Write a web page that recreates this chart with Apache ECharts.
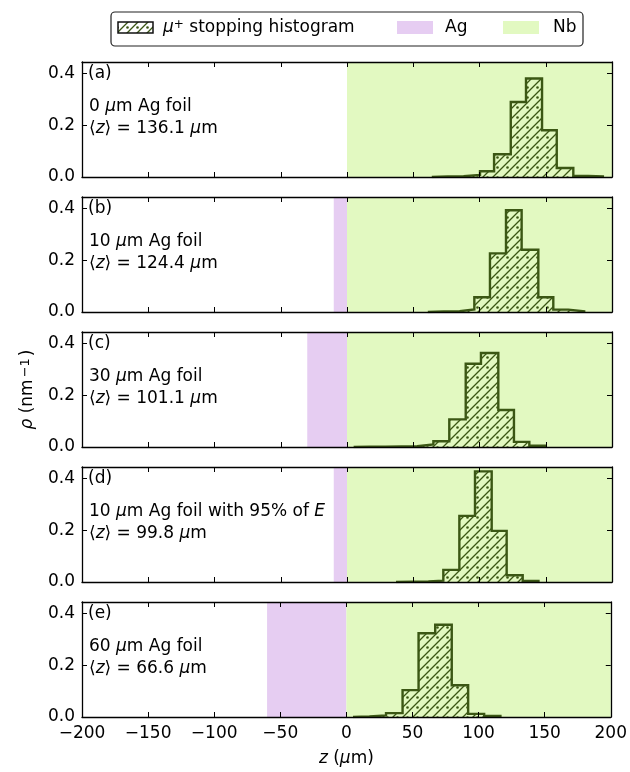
<!DOCTYPE html>
<html>
<head>
<meta charset="utf-8">
<script src="https://cdn.jsdelivr.net/npm/echarts@6/dist/echarts.min.js"></script>
<style>
  html, body { margin: 0; padding: 0; background: #fff; }
  #chart { width: 630px; height: 772px; }
</style>
</head>
<body>
<div id="chart"></div>
<script>
// x range, ticks
const xMin = -200
const xMax = 200
const xStep = 50
const yMax = 0.445
const yStep = 0.2

const panelTags = ['(a)', '(b)', '(c)', '(d)', '(e)']
const foilLabels = [
  '0 {i|μ}m Ag foil',
  '10 {i|μ}m Ag foil',
  '30 {i|μ}m Ag foil',
  '10 {i|μ}m Ag foil with 95% of {i|E}',
  '60 {i|μ}m Ag foil'
]
const meanZ = ['136.1', '124.4', '101.1', '99.8', '66.6']
const agThickness = [0, 10, 30, 10, 60]
const nbEnd = 200

// histogram bin edges (µm) and densities
const edgesA = [64, 76, 88, 100.4, 111, 123.6, 135.1, 147.2, 158.3, 170.8, 182, 194]
const rhoA = [0.002, 0.003, 0.008, 0.022, 0.088, 0.29, 0.381, 0.181, 0.035, 0.004, 0.002]
const edgesB = [61, 73, 85, 96.1, 107.9, 120, 131.8, 144.4, 155.7, 167, 179]
const rhoB = [0.002, 0.003, 0.01, 0.057, 0.227, 0.394, 0.241, 0.057, 0.009, 0.003]
const edgesC = [5, 17, 29, 41, 53, 65.2, 77.2, 89.6, 101.1, 114.2, 126, 137.6, 150]
const rhoC = [0.001, 0.001, 0.002, 0.003, 0.01, 0.022, 0.107, 0.322, 0.364, 0.143, 0.02, 0.005]
const edgesD = [37, 49, 61.4, 72.7, 84.8, 96.6, 109.2, 120.5, 132.6, 144.5]
const rhoD = [0.001, 0.002, 0.005, 0.047, 0.256, 0.428, 0.198, 0.026, 0.004]
const edgesE = [5, 17.4, 30, 42.5, 54.6, 67.2, 79.7, 92.1, 104.2, 116.5]
const rhoE = [0.002, 0.006, 0.015, 0.104, 0.324, 0.357, 0.123, 0.012, 0.004]

const allEdges = [edgesA, edgesB, edgesC, edgesD, edgesE]
const allRho = [rhoA, rhoB, rhoC, rhoD, rhoE]

const EDGE = '#3b5714'
const AG = '#e6cdf2'
const NB = '#e2f9c1'
const FONT = 'DejaVu Sans'
const FS = 17

function makeHatch() {
  const c = document.createElement('canvas')
  c.width = 10
  c.height = 10
  const g = c.getContext('2d')
  g.strokeStyle = EDGE
  g.lineWidth = 1.3
  g.beginPath()
  g.moveTo(0, 10); g.lineTo(10, 0)
  g.moveTo(-1, 1); g.lineTo(1, -1)
  g.moveTo(9, 11); g.lineTo(11, 9)
  g.stroke()
  g.fillStyle = EDGE
  g.beginPath()
  g.arc(7.5, 7.5, 1.3, 0, Math.PI * 2)
  g.fill()
  return c
}
const hatch = makeHatch()

// outline of a step histogram
function stepPoints(edges, rho) {
  const pts = [[edges[0], 0]]
  rho.forEach((h, k) => {
    pts.push([edges[k], h])
    pts.push([edges[k + 1], h])
  })
  pts.push([edges[edges.length - 1], 0])
  return pts
}

const minus = v => String(v).replace('-', '\u2212')
const italic = { fontStyle: 'italic', fontFamily: FONT, fontSize: FS, color: '#000' }
const sup = { fontFamily: FONT, fontSize: 13, color: '#000', verticalAlign: 'top', padding: [0, 2, 0, 2] }

const chart = echarts.init(document.getElementById('chart'), null, { renderer: 'canvas' })

const grids = []
const xAxes = []
const yAxes = []
const series = []
const graphics = []

panelTags.forEach((tag, i) => {
  const top = 62 + 135 * i
  grids.push({ left: 82, right: 18, top: top, height: 115 })
  const line = { show: true, onZero: false, lineStyle: { color: '#000', width: 1.3 } }
  const tick = { show: true, inside: true, length: 5, lineStyle: { color: '#000', width: 1 } }
  const last = i === panelTags.length - 1
  xAxes.push({
    type: 'value', gridIndex: i, position: 'bottom', min: xMin, max: xMax, interval: xStep, z: 10,
    axisLine: line, axisTick: tick, splitLine: { show: false },
    axisLabel: { show: last, color: '#000', fontSize: FS, fontFamily: FONT, margin: 8, formatter: minus },
    name: last ? '{i|z} ({i|μ}m)' : '',
    nameLocation: 'middle', nameGap: 33,
    nameTextStyle: { color: '#000', fontSize: FS, fontFamily: FONT, rich: { i: italic } }
  })
  xAxes.push({
    type: 'value', gridIndex: i, position: 'top', min: xMin, max: xMax, interval: xStep, z: 10,
    axisLine: line, axisTick: tick, splitLine: { show: false }, axisLabel: { show: false }
  })
  yAxes.push({
    type: 'value', gridIndex: i, position: 'left', min: 0, max: yMax, interval: yStep, z: 10,
    axisLine: line, axisTick: tick, splitLine: { show: false },
    axisLabel: {
      color: '#000', fontSize: FS, fontFamily: FONT, margin: 7, showMaxLabel: false,
      formatter: v => (Math.abs(v / yStep - Math.round(v / yStep)) < 1e-6 ? v.toFixed(1) : '')
    },
    name: i === 2 ? '{i|ρ} (nm{s|−1})' : '',
    nameLocation: 'middle', nameRotate: 90, nameGap: 46,
    nameTextStyle: { color: '#000', fontSize: FS, fontFamily: FONT, rich: { i: italic, s: sup } }
  })
  yAxes.push({
    type: 'value', gridIndex: i, position: 'right', min: 0, max: yMax, interval: yStep, z: 10,
    axisLine: line, axisTick: tick, splitLine: { show: false }, axisLabel: { show: false }
  })

  const areas = []
  if (agThickness[i] > 0) {
    areas.push([{ xAxis: -agThickness[i], itemStyle: { color: AG } }, { xAxis: 0 }])
  }
  areas.push([{ xAxis: 0, itemStyle: { color: NB } }, { xAxis: nbEnd }])
  series.push({
    type: 'line', xAxisIndex: 2 * i, yAxisIndex: 2 * i, data: [], z: 1,
    markArea: { silent: true, data: areas }
  })
  series.push({
    name: 'μ+ stopping histogram',
    type: 'line', xAxisIndex: 2 * i, yAxisIndex: 2 * i, z: 3,
    data: stepPoints(allEdges[i], allRho[i]),
    showSymbol: false, symbol: 'none', silent: true,
    lineStyle: { color: EDGE, width: 2.4, join: 'miter' },
    areaStyle: { color: { image: hatch, repeat: 'repeat' }, opacity: 1 }
  })

  graphics.push({
    type: 'text', left: 88, top: top + 3, z: 20,
    style: { text: tag, fontSize: FS, fontFamily: FONT, fill: '#000' }
  })
  graphics.push({
    type: 'text', left: 89, top: top + 34, z: 20,
    style: {
      text: foilLabels[i] + '\n⟨{i|z}⟩ = ' + meanZ[i] + ' {i|μ}m',
      fontSize: FS, fontFamily: FONT, fill: '#000', lineHeight: 22,
      rich: { i: { fontStyle: 'italic', fontFamily: FONT, fontSize: FS, fill: '#000', lineHeight: 22 } }
    }
  })
})

// legend box
graphics.push(
  { type: 'rect', shape: { x: 111, y: 12, width: 472, height: 34, r: 4 },
    style: { fill: '#fff', stroke: '#222', lineWidth: 1.2 } },
  { type: 'rect', shape: { x: 118, y: 22, width: 35, height: 11 },
    style: { fill: { image: hatch, repeat: 'repeat' }, stroke: '#111', lineWidth: 1.5 } },
  { type: 'text', left: 163, top: 19,
    style: { text: '{i|μ}{s|+} stopping histogram', fontSize: FS, fontFamily: FONT, fill: '#000',
      rich: { i: { fontStyle: 'italic', fontFamily: FONT, fontSize: FS, fill: '#000' },
        s: { fontFamily: FONT, fontSize: 12, fill: '#000', verticalAlign: 'top' } } } },
  { type: 'rect', shape: { x: 397, y: 21, width: 36, height: 13 }, style: { fill: AG } },
  { type: 'text', left: 445, top: 19, style: { text: 'Ag', fontSize: FS, fontFamily: FONT, fill: '#000' } },
  { type: 'rect', shape: { x: 503, y: 21, width: 36, height: 13 }, style: { fill: NB } },
  { type: 'text', left: 553, top: 19, style: { text: 'Nb', fontSize: FS, fontFamily: FONT, fill: '#000' } }
)

chart.setOption({
  animation: false,
  backgroundColor: '#fff',
  grid: grids,
  xAxis: xAxes,
  yAxis: yAxes,
  series: series,
  graphic: graphics
})
</script>
</body>
</html>
